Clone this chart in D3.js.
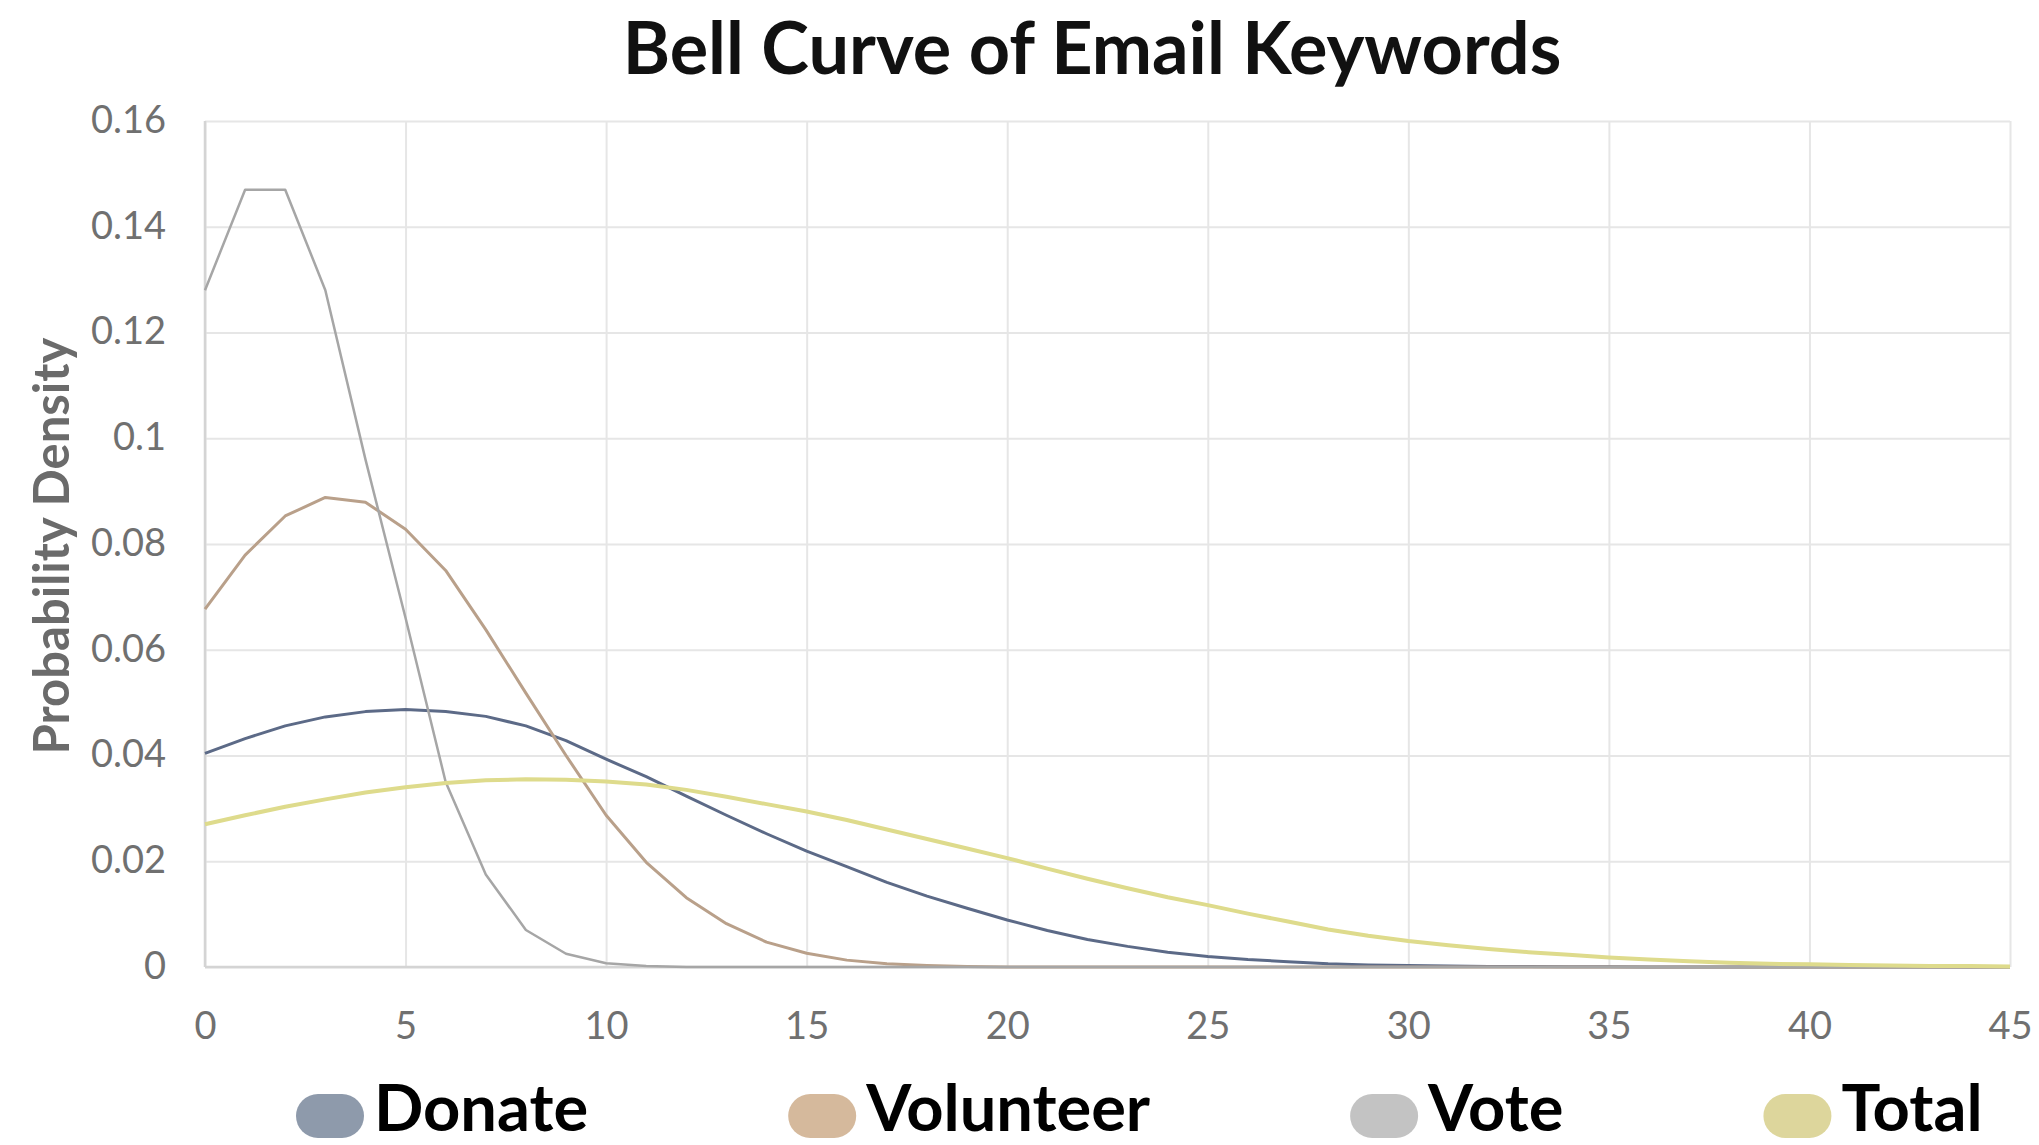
<!DOCTYPE html>
<html>
<head>
<meta charset="utf-8">
<script src="https://cdn.jsdelivr.net/npm/d3@7"></script>
<style>
    body {margin: 0; background: #fff;}
    text {font-family: Lato, "Open Sans", sans-serif;}
    .axis path {display: none;}
    .axis line {stroke: #e6e6e6; stroke-width: 2;}
    .axis text {fill: #707070; font-size: 38px;}
    .baseline {stroke: #d4d4d4; stroke-width: 2.5;}
</style>
</head>
<body>
<div id="chartDiv"></div>
<script>
// x positions (counts) and axis ticks
let xValues = [0,1,2,3,4,5,6,7,8,9,10,11,12,13,14,15,16,17,18,19,20,21,22,23,24,25,26,27,28,29,
    30,31,32,33,34,35,36,37,38,39,40,41,42,43,44,45];
let xTicks = [0,5,10,15,20,25,30,35,40,45];
let yTicks = [0,0.02,0.04,0.06,0.08,0.1,0.12,0.14,0.16];
let yTickLabels = ['0','0.02','0.04','0.06','0.08','0.1','0.12','0.14','0.16'];

// series, one value per x
let seriesNames = ['Donate','Volunteer','Vote','Total'];
let donate = [0.0404,0.0432,0.0456,0.0473,0.0483,0.0487,0.0483,0.0474,0.0456,0.0428,
    0.0393,0.0360,0.0323,0.0287,0.0252,0.0219,0.0190,0.0160,0.0134,0.0111,
    0.0089,0.0069,0.0052,0.0039,0.0028,0.0020,0.0014,0.0010,0.0006,0.0004,
    0.0003,0.0002,0.0001,0.0001,0.00005,0.00003,0,0,0,0,
    0,0,0,0,0,0];
let volunteer = [0.0677,0.0779,0.0853,0.0888,0.0879,0.0828,0.0750,0.0638,0.0518,0.0400,
    0.0287,0.0198,0.0131,0.0082,0.0047,0.0026,0.0013,0.0006,0.0003,0.0001,
    0,0,0,0,0,0,0,0,0,0,
    0,0,0,0,0,0,0,0,0,0,
    0,0,0,0,0,0];
let vote = [0.128,0.147,0.147,0.128,0.096,0.066,0.035,0.0175,0.007,0.0025,
    0.0007,0.0002,0,0,0,0,0,0,0,0,
    0,0,0,0,0,0,0,0,0,0,
    0,0,0,0,0,0,0,0,0,0,
    0,0,0,0,0,0];
let total = [0.0270,0.0287,0.0303,0.0317,0.0330,0.0340,0.0348,0.0353,0.0355,0.0354,
    0.0351,0.0345,0.0335,0.0322,0.0308,0.0294,0.0278,0.0260,0.0242,0.0224,
    0.0206,0.0186,0.0167,0.0149,0.0132,0.0117,0.0101,0.0086,0.0071,0.0059,
    0.0049,0.0041,0.0034,0.0028,0.0023,0.0018,0.0014,0.0011,0.0008,0.0006,
    0.0005,0.0004,0.0003,0.0002,0.0002,0.0001];

let lineColors = ['#5c6a87','#b9a08a','#a6a6a6','#dedb8c'];
let lineWidths = [3, 3, 2.5, 4];
let swatchColors = ['#8e9aab','#d5b99c','#c3c3c3','#ddd69c'];

let width = 2039, height = 1145;
let margin = {top: 121, right: 29, bottom: 178, left: 205};

let svg = d3.select('#chartDiv')
    .append('svg')
    .attr('width', width)
    .attr('height', height);

let xScale = d3.scaleLinear()
    .domain([0, 45])
    .range([margin.left, width - margin.right]);

let yScale = d3.scaleLinear()
    .domain([0, 0.16])
    .range([height - margin.bottom, margin.top]);

//gridlines come from the axes' ticks
svg.append('g')
    .attr('class', 'axis axis--y')
    .attr('transform', 'translate(' + margin.left + ',0)')
    .call(d3.axisLeft(yScale)
        .tickValues(yTicks)
        .tickFormat(function(d, i) {return yTickLabels[i]})
        .tickSize(-(width - margin.left - margin.right))
        .tickPadding(39))
    .selectAll('text')
    .attr('dy', '0.3em');

svg.append('g')
    .attr('class', 'axis axis--x')
    .attr('transform', 'translate(0,' + margin.top + ')')
    .call(d3.axisBottom(xScale)
        .tickValues(xTicks)
        .tickSize(height - margin.top - margin.bottom))
    .selectAll('text')
    .attr('y', 0)
    .attr('dy', 0)
    .attr('fill', '#7a7a7a')
    .attr('transform', 'translate(0,' + (height - margin.top - margin.bottom + 72) + ')');

svg.append('line')
    .attr('class', 'baseline')
    .attr('x1', margin.left).attr('x2', width - margin.right)
    .attr('y1', yScale(0)).attr('y2', yScale(0));
svg.append('line')
    .attr('class', 'baseline')
    .attr('x1', margin.left).attr('x2', margin.left)
    .attr('y1', yScale(0)).attr('y2', yScale(0.16));

let allSeries = [donate, volunteer, vote, total];

let line = d3.line()
    .x(function(d, i) {return xScale(xValues[i])})
    .y(function(d) {return yScale(d)});

svg.selectAll('.series')
    .data(allSeries)
    .enter()
    .append('path')
    .attr('class', 'series')
    .attr('fill', 'none')
    .attr('stroke', function(d, i) {return lineColors[i]})
    .attr('stroke-width', function(d, i) {return lineWidths[i]})
    .attr('stroke-linejoin', 'round')
    .attr('d', line);

//title and y axis label
svg.append('text')
    .attr('x', 1092)
    .attr('y', 74)
    .attr('text-anchor', 'middle')
    .attr('font-size', '72px')
    .attr('font-weight', 'bold')
    .attr('fill', '#111')
    .text('Bell Curve of Email Keywords');

svg.append('text')
    .attr('transform', 'translate(69,546) rotate(-90)')
    .attr('text-anchor', 'middle')
    .attr('font-size', '49px')
    .attr('font-weight', 'bold')
    .attr('fill', '#6b6b6b')
    .text('Probability Density');

//legend, laid out left to right with a fixed gap
let legend = svg.append('g').attr('class', 'legend');
let lx = 296;
seriesNames.forEach(function(name, i) {
    let item = legend.append('g').attr('transform', 'translate(' + lx + ',1116)');
    item.append('rect')
        .attr('x', 0).attr('y', -22)
        .attr('width', 68).attr('height', 44)
        .attr('rx', 22)
        .attr('fill', swatchColors[i]);
    let t = item.append('text')
        .attr('x', 78)
        .attr('y', 15)
        .attr('font-size', '65px')
        .attr('font-weight', 'bold')
        .attr('fill', '#000')
        .text(name);
    lx += 78 + t.node().getComputedTextLength() + 200;
});
</script>
</body>
</html>
